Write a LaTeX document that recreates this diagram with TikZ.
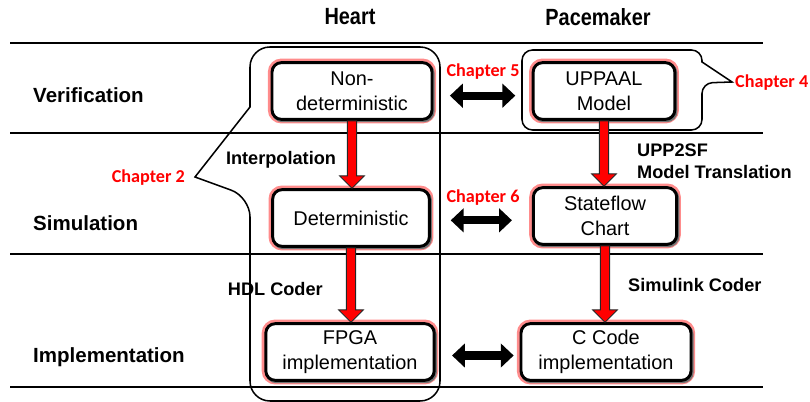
\documentclass[tikz,border=0pt]{standalone}
\usepackage{fontspec}
\setmainfont{Liberation Sans}
\newfontfamily\chapfont{Carlito}
\usetikzlibrary{calc,arrows.meta}

\tikzset{
  stage/.style={draw=black, line width=2.5pt, rounded corners=8pt, fill=white,
    align=center, inner sep=2pt, font=\fontsize{17}{21}\selectfont,
    preaction={draw=red!45!white, line width=7pt},
    preaction={draw=black!55, line width=2.5pt, transform canvas={shift={(1pt,-1.2pt)}}},
    minimum height=1.7cm},
  group/.style={draw=black, line width=1.3pt},
  rule/.style={draw=black, line width=1.6pt},
  rowlabel/.style={anchor=west, inner sep=0pt, font=\fontsize{17.5}{20}\selectfont\bfseries},
  colhead/.style={font=\fontsize{20}{22}\selectfont\bfseries},
  toollabel/.style={inner sep=0pt, font=\fontsize{15.5}{19}\selectfont\bfseries, align=left},
  chapter/.style={inner sep=0pt, text=red, font=\fontsize{15.5}{18}\selectfont\chapfont\bfseries},
  redarrow/.style={draw=black!85, line width=0.8pt, fill=red, line join=miter,
    to path={let \p1=(\tikztostart), \p2=(\tikztotarget) in
      (\x1-4pt,\y1) -- (\x1-4pt,\y2+10.5pt) -- (\x1-10.5pt,\y2+10.5pt) -- (\x1,\y2)
      -- (\x1+10.5pt,\y2+10.5pt) -- (\x1+4pt,\y2+10.5pt) -- (\x1+4pt,\y1) -- cycle}},
  dblarrow/.style={draw=black, line width=7pt,
    {Triangle[length=11pt,width=20pt]}-{Triangle[length=11pt,width=20pt]}}
}

\begin{document}
\begin{tikzpicture}[x=0.03cm,y=-0.03cm]
  \useasboundingbox (0,0) rectangle (810,402);

  \node[colhead] (heart) at (350,17) {\scalebox{0.85}[1]{Heart}};
  \node[colhead] (pacer) at (598,17) {\scalebox{0.85}[1]{Pacemaker}};

  \draw[rule] (10,43) -- (763,43);
  \draw[rule] (10,133) -- (763,133);
  \draw[rule] (10,254) -- (763,254);
  \draw[rule] (10,387) -- (763,387);

  \node[rowlabel] (verif) at (33,95) {Verification};
  \node[rowlabel] (simul) at (33,223) {Simulation};
  \node[rowlabel] (impl) at (33,357) {Implementation};

  % groups with callout pointers
  \draw[group] (250,107) [rounded corners=17pt] -- (250,47) -- (440,47) -- (440,401)
    -- (250,401) -- (250,197) [sharp corners] -- (195,177) -- cycle;
  \draw[group] (702,62) [rounded corners=9pt] -- (702,50) -- (522,50) -- (522,130)
    -- (702,130) -- (702,83) [sharp corners] -- (732,82) -- cycle;

  \node[stage, minimum width=4.8cm] (nondet) at (352,91) {Non-\\deterministic};
  \node[stage, minimum width=4.25cm] (uppaal) at (604,91) {UPPAAL\\Model};
  \node[stage, minimum width=4.7cm] (det) at (351,218) {Deterministic};
  \node[stage, minimum width=4.3cm] (sflow) at (605,216) {Stateflow\\Chart};
  \node[stage, minimum width=5.05cm] (fpga) at (350,352) {FPGA\\implementation};
  \node[stage, minimum width=5.1cm] (ccode) at (606,352) {C Code\\implementation};

  \draw[redarrow] (nondet.south) to (det.north);
  \draw[redarrow] (uppaal.south) to (sflow.north);
  \draw[redarrow] (det.south) to (fpga.north);
  \draw[redarrow] (sflow.south) to (ccode.north);

  \draw[dblarrow, shorten <=14pt, shorten >=14pt] ([yshift=-4pt]nondet.east) -- ([yshift=-4pt]uppaal.west);
  \draw[dblarrow, shorten <=17pt, shorten >=17pt] ([yshift=-2pt]det.east) -- ([yshift=-2pt]det.east -| sflow.west);
  \draw[dblarrow, shorten <=14pt, shorten >=5pt] ([yshift=-3pt]fpga.east) -- ([yshift=-3pt]ccode.west);

  \node[chapter] (ch5) at (483,72) {Chapter 5};
  \node[chapter] (ch6) at (483,198) {Chapter 6};
  \node[chapter, anchor=east] (ch2) at (185,178) {Chapter 2};
  \node[chapter, anchor=west] (ch4) at (735,83) {Chapter 4};

  \node[toollabel] (interp) at (281,160) {Interpolation};
  \node[toollabel, anchor=west] (upp2sf) at (637,161) {UPP2SF\\Model Translation};
  \node[toollabel, anchor=east] (hdl) at (323,289) {HDL Coder};
  \node[toollabel, anchor=west] (slcoder) at (628,285) {Simulink Coder};
\end{tikzpicture}
\end{document}
